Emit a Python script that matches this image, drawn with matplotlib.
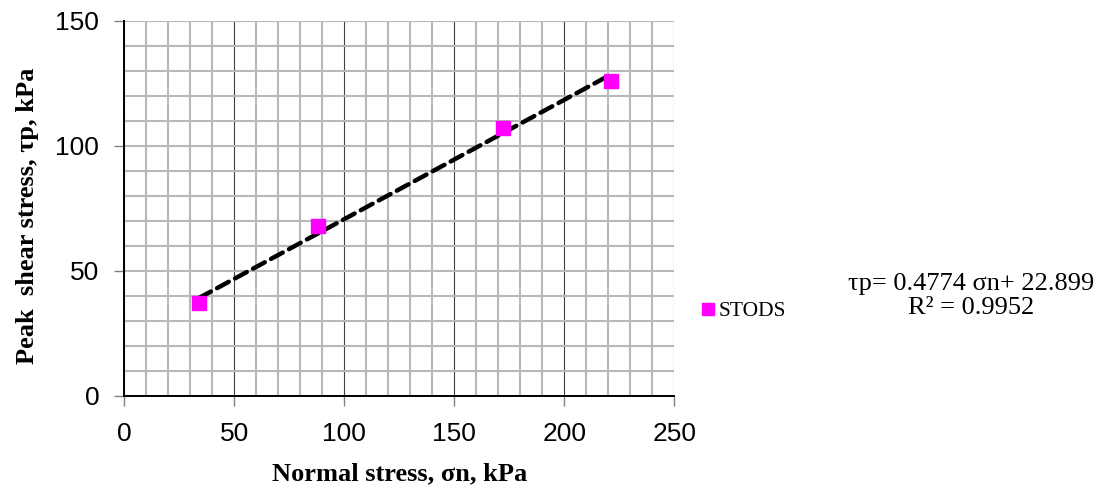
import numpy as np
import matplotlib.pyplot as plt

# data
normal_stress = [34, 88, 172, 221]
peak_shear = [37, 68, 107, 126]
slope, intercept = 0.4774, 22.899
series_name = "STODS"
eq_text = "τp= 0.4774 σn+ 22.899\nR² = 0.9952"

serif = ['Liberation Serif', 'DejaVu Serif']

fig = plt.figure(figsize=(11.04, 4.88), dpi=100)
ax = fig.add_axes([0.1126, 0.1891, 0.4982, 0.7684])

# trendline over the data range
xt = np.array([min(normal_stress), max(normal_stress)])
ax.plot(xt, slope * xt + intercept, color='black', lw=3.2, ls=(0, (3, 1.6)),
        dash_capstyle='round', zorder=3)
ax.plot(normal_stress, peak_shear, ls='none', marker='s', ms=10.5,
        color='#ff00ff', label=series_name, zorder=4)

ax.set_xlim(0, 250)
ax.set_ylim(0, 150)
ax.set_xticks(np.arange(0, 251, 50))
ax.set_yticks(np.arange(0, 151, 50))
ax.set_xticks(np.arange(0, 251, 10), minor=True)
ax.set_yticks(np.arange(0, 151, 10), minor=True)
ax.tick_params(which='minor', length=0)
ax.tick_params(which='major', length=7, width=1, labelsize=19,
               colors='#808080', labelcolor='black')
ax.tick_params(axis='x', pad=12)
ax.tick_params(axis='y', pad=11)
for t in ax.get_xticklabels() + ax.get_yticklabels():
    t.set_family('Liberation Sans')

ax.grid(which='minor', color='#b8b8b8', lw=1.5)
ax.grid(which='major', axis='y', color='#b8b8b8', lw=1.5)
ax.grid(which='major', axis='x', color='#404040', lw=0.8)
ax.set_axisbelow(True)
for s in ['top', 'right']:
    ax.spines[s].set_visible(False)
for s in ['left', 'bottom']:
    ax.spines[s].set_linewidth(1.4)

ax.set_xlabel("Normal stress, σn, kPa", family=serif, fontweight='bold',
              fontsize=19, labelpad=12)
ax.set_ylabel("Peak  shear stress, τp, kPa", family=serif, fontweight='bold',
              fontsize=19)
ax.yaxis.set_label_coords(-0.155, 0.479)

fig.legend(loc='center left', bbox_to_anchor=(0.618, 0.362), frameon=False,
           handlelength=0.6, handletextpad=0.2, markerscale=0.85,
           prop={'family': serif, 'size': 15.5})

fig.text(0.880, 0.393, eq_text, ha='center', va='center', family=serif,
         fontsize=19, linespacing=1.1)

fig.savefig('out.png', dpi=100)
